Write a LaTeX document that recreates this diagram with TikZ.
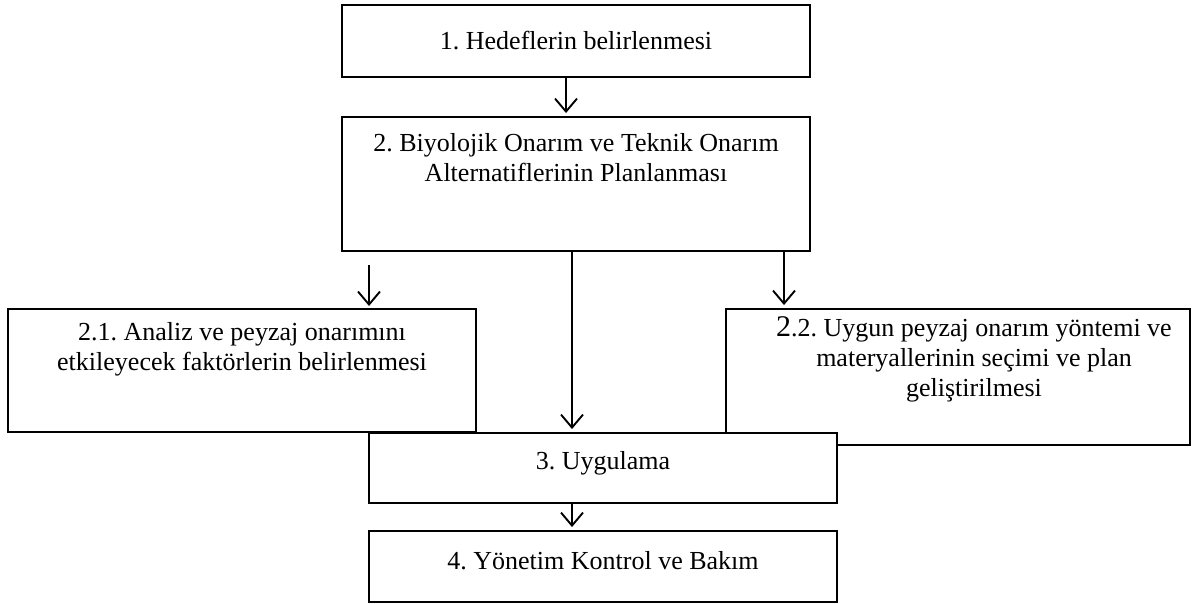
\documentclass[tikz,border=0pt]{standalone}
\usepackage{fontspec}
\setmainfont{Liberation Serif}
\usetikzlibrary{arrows.meta}
\frenchspacing
\begin{document}
\begin{tikzpicture}[x=1pt,y=-1pt,
  box/.style={draw=black, line width=1.9pt, fill=white, rectangle, inner sep=0pt},
  txt/.style={font=\fontsize{26}{30}\selectfont, align=center, inner sep=0pt},
  flow/.style={draw=black, line width=1.9pt, -{Straight Barb[length=13pt,width=22pt,line width=1.9pt]}, shorten >=3pt}]
\useasboundingbox (0,0) rectangle (1192,604);

% step boxes
\node[box, minimum width=468pt, minimum height=72pt] (b1) at (576,41) {};
\node[box, minimum width=468pt, minimum height=134pt] (b2) at (576,184) {};
\node[box, minimum width=468pt, minimum height=123pt] (b21) at (242,370.5) {};
\node[box, minimum width=464pt, minimum height=136pt] (b22) at (958,377) {};
\node[box, minimum width=468pt, minimum height=70pt] (b3) at (603,468) {};
\node[box, minimum width=468pt, minimum height=71pt] (b4) at (603,566.5) {};

% labels
\node[txt] (t1) at (576,41) {1. Hedeflerin belirlenmesi};
\node[txt] (t2) at (576,158) {2. Biyolojik Onarım ve Teknik Onarım\\Alternatiflerinin Planlanması};
\node[txt] (t21) at (242,349) {2.1. Analiz ve peyzaj onarımını\\etkileyecek faktörlerin belirlenmesi};
\node[txt] (t22) at (974,359) {{\fontsize{30}{30}\selectfont 2}.2. Uygun peyzaj onarım yöntemi ve\\materyallerinin seçimi ve plan\\geliştirilmesi};
\node[txt] (t3) at (603,463) {3. Uygulama};
\node[txt] (t4) at (603,561) {4. Yönetim Kontrol ve Bakım};

% free ends of the side arrows
\coordinate (l0) at (369,265);
\coordinate (l1) at (369,309);

% connectors
\draw[flow] (b1.south -| 566,0) -- (b2.north -| 566,0);
\draw[flow] (l0) -- (l1);
\draw[flow] (b2.south -| 784,0) -- (b22.north -| 784,0);
\draw[flow] (b2.south -| 572,0) -- (b3.north -| 572,0);
\draw[flow] (b3.south -| 572,0) -- (b4.north -| 572,0);
\end{tikzpicture}
\end{document}
